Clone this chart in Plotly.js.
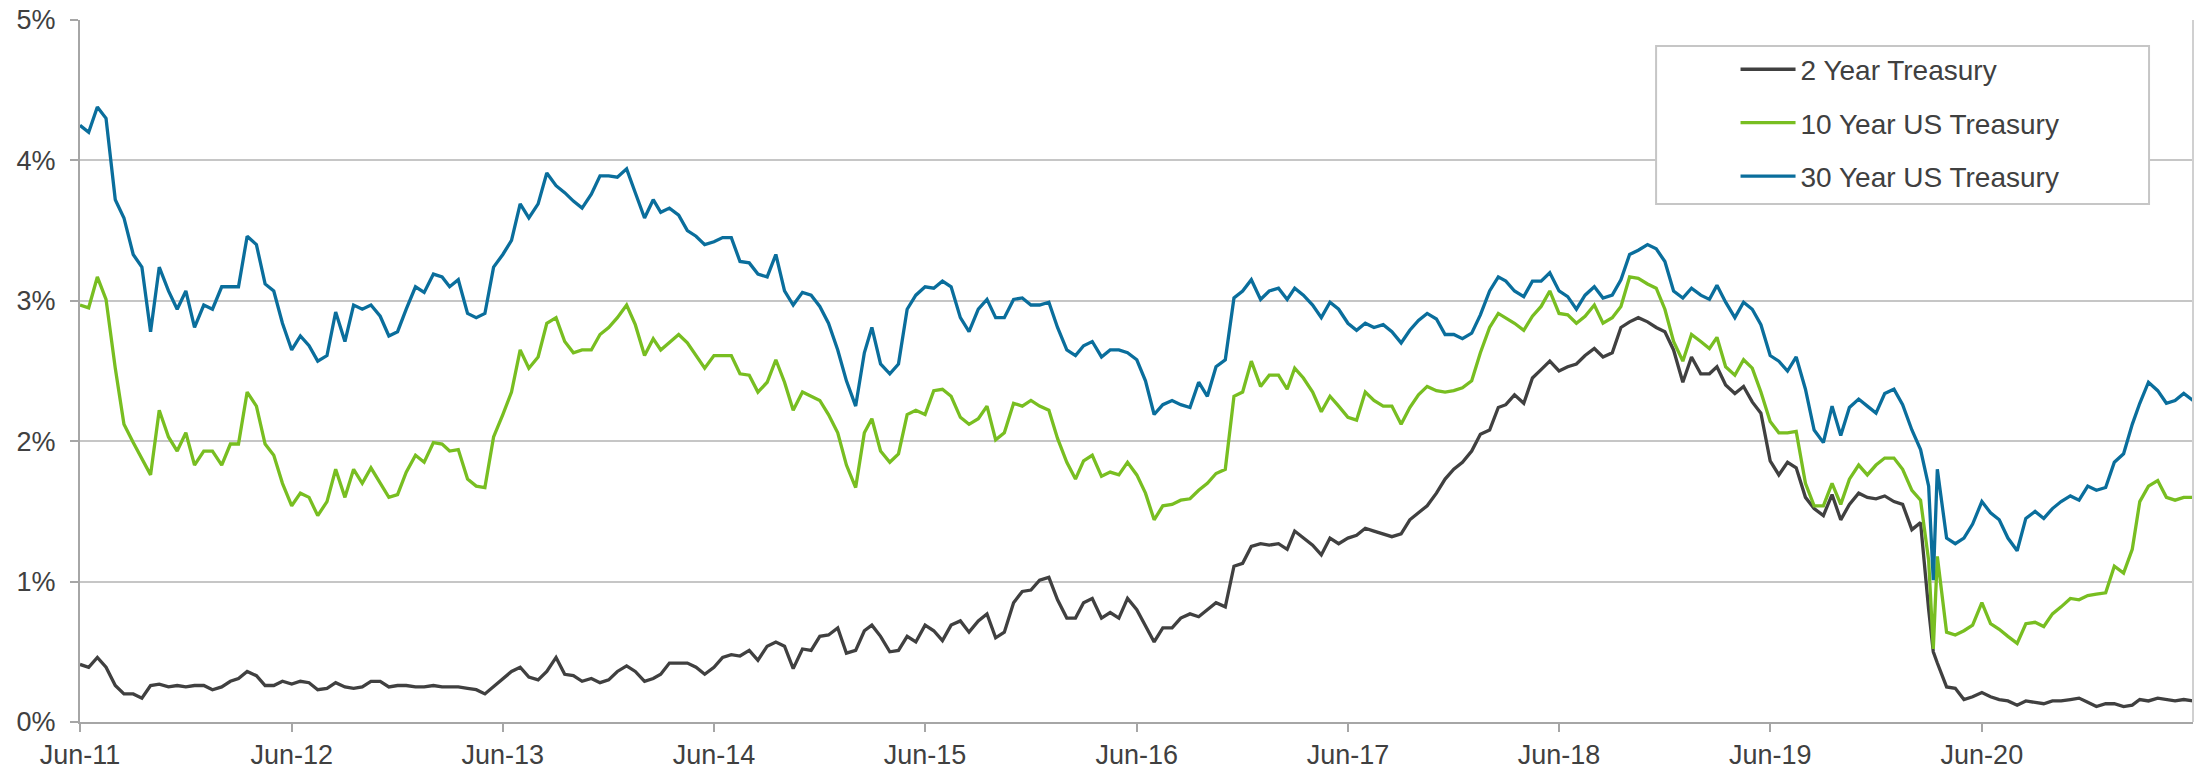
<!DOCTYPE html>
<html>
<head>
<meta charset="utf-8">
<script src="https://cdn.plot.ly/plotly-3.0.1.min.js"></script>
<style>
  html, body { margin: 0; padding: 0; background: #ffffff; }
  #chart { width: 2201px; height: 769px; }
</style>
</head>
<body>
<div id="chart"></div>
<script>
// ---- Data (semi-monthly readings, Jun 2011 - Jun 2021) ----
const startYear = 2011;
const startMonth = 6;           // June
const readingsPerMonth = 2;     // 1st and 16th of each month

const seriesNames = ["2 Year Treasury", "10 Year US Treasury", "30 Year US Treasury"];
const seriesColors = ["#404040", "#78BE21", "#0A6E9C"];

const yield2y = [
  0.41,0.39,0.46,0.39,0.26,0.20,0.20,0.17,0.26,0.27,
  0.25,0.26,0.25,0.26,0.26,0.23,0.25,0.29,0.31,0.36,
  0.33,0.26,0.26,0.29,0.27,0.29,0.28,0.23,0.24,0.28,
  0.25,0.24,0.25,0.29,0.29,0.25,0.26,0.26,0.25,0.25,
  0.26,0.25,0.25,0.25,0.24,0.23,0.20,0.25,0.31,
  0.36,0.39,0.32,0.30,0.36,0.46,0.34,0.33,0.29,0.31,
  0.28,0.30,0.36,0.40,0.36,0.29,0.31,0.34,0.42,0.42,
  0.42,0.39,0.34,0.39,0.46,0.48,0.47,0.51,0.44,0.54,
  0.57,0.54,0.38,0.52,0.51,0.61,0.62,0.67,0.49,0.51,
  0.65,0.69,0.61,0.50,0.51,0.61,0.57,0.69,
  0.65,0.58,0.69,0.72,0.64,0.72,0.77,0.60,0.64,0.85,
  0.93,0.94,1.01,1.03,0.87,0.74,0.74,0.85,0.88,0.74,
  0.78,0.74,0.88,0.80,0.69,0.57,0.67,0.67,0.74,0.77,
  0.75,0.80,0.85,0.82,1.11,1.13,1.25,1.27,1.26,1.27,
  1.23,1.36,1.31,1.26,1.19,1.31,1.27,1.31,
  1.33,1.38,1.36,1.34,1.32,1.34,1.44,1.49,1.54,1.63,
  1.73,1.80,1.85,1.93,2.05,2.08,2.24,2.26,2.33,2.27,
  2.45,2.51,2.57,2.50,2.53,2.55,2.61,2.66,2.60,2.63,
  2.81,2.85,2.88,2.85,2.81,2.78,2.65,2.42,2.60,2.48,
  2.48,2.53,2.40,2.34,2.39,2.28,2.20,
  1.86,1.76,1.85,1.81,1.60,1.52,1.47,1.62,1.44,1.55,
  1.63,1.60,1.59,1.61,1.57,1.55,1.37,1.42,0.80,0.42,
  0.25,0.24,0.16,0.18,0.21,0.18,0.16,0.15,0.12,0.15,
  0.14,0.13,0.15,0.15,0.16,0.17,0.14,0.11,0.13,0.13,
  0.11,0.12,0.16,0.15,0.17,0.16,0.15,0.16,0.15
];

const yield10y = [
  2.97,2.95,3.17,3.01,2.52,2.12,1.99,1.88,1.76,2.22,
  2.03,1.93,2.06,1.83,1.93,1.93,1.83,1.98,1.98,2.35,
  2.25,1.98,1.90,1.70,1.54,1.63,1.60,1.47,1.57,1.80,
  1.60,1.80,1.70,1.81,1.70,1.60,1.62,1.78,1.90,1.85,
  1.99,1.98,1.93,1.94,1.73,1.68,1.67,2.03,2.19,
  2.35,2.65,2.52,2.60,2.84,2.88,2.71,2.63,2.65,2.65,
  2.76,2.81,2.88,2.97,2.83,2.61,2.73,2.65,2.70,2.76,
  2.70,2.61,2.52,2.61,2.61,2.61,2.48,2.47,2.35,2.42,
  2.58,2.42,2.22,2.35,2.32,2.29,2.19,2.06,1.83,1.67,
  2.06,2.16,1.93,1.85,1.91,2.19,2.22,2.19,
  2.36,2.37,2.32,2.17,2.12,2.16,2.25,2.01,2.06,2.27,
  2.25,2.29,2.25,2.22,2.02,1.85,1.73,1.86,1.90,1.75,
  1.78,1.76,1.85,1.76,1.63,1.44,1.54,1.55,1.58,1.59,
  1.65,1.70,1.77,1.80,2.32,2.35,2.57,2.39,2.47,2.47,
  2.37,2.52,2.45,2.35,2.21,2.32,2.25,2.17,
  2.15,2.35,2.29,2.25,2.25,2.12,2.24,2.33,2.39,2.36,
  2.35,2.36,2.38,2.43,2.63,2.81,2.91,2.88,2.84,2.79,
  2.89,2.96,3.07,2.91,2.90,2.84,2.89,2.97,2.84,2.88,
  2.96,3.17,3.16,3.12,3.09,2.94,2.71,2.57,2.76,2.71,
  2.66,2.74,2.53,2.47,2.58,2.52,2.35,
  2.14,2.06,2.06,2.07,1.70,1.54,1.54,1.70,1.55,1.73,
  1.83,1.76,1.83,1.88,1.88,1.80,1.65,1.58,1.15,1.18,
  0.64,0.62,0.65,0.69,0.85,0.70,0.66,0.61,0.56,0.70,
  0.71,0.68,0.77,0.82,0.88,0.87,0.90,0.91,0.92,1.11,
  1.06,1.23,1.57,1.68,1.72,1.60,1.58,1.60,1.60
];

const yield30y = [
  4.25,4.20,4.38,4.30,3.72,3.59,3.33,3.24,2.78,3.24,
  3.07,2.94,3.07,2.81,2.97,2.94,3.10,3.10,3.10,3.46,
  3.40,3.12,3.07,2.84,2.65,2.75,2.68,2.57,2.61,2.92,
  2.71,2.97,2.94,2.97,2.89,2.75,2.78,2.94,3.10,3.06,
  3.19,3.17,3.10,3.15,2.91,2.88,2.91,3.24,3.33,
  3.43,3.69,3.59,3.69,3.91,3.82,3.77,3.71,3.66,3.76,
  3.89,3.89,3.88,3.94,3.77,3.59,3.72,3.63,3.66,3.61,
  3.50,3.46,3.40,3.42,3.45,3.45,3.28,3.27,3.19,3.17,
  3.33,3.07,2.97,3.06,3.04,2.96,2.84,2.65,2.43,2.25,
  2.63,2.81,2.55,2.48,2.55,2.94,3.04,3.10,
  3.09,3.14,3.10,2.88,2.78,2.94,3.01,2.88,2.88,3.01,
  3.02,2.97,2.97,2.99,2.81,2.65,2.61,2.68,2.71,2.60,
  2.65,2.65,2.63,2.58,2.43,2.19,2.26,2.29,2.26,2.24,
  2.42,2.32,2.53,2.58,3.02,3.07,3.15,3.01,3.07,3.09,
  3.01,3.09,3.04,2.97,2.88,2.99,2.94,2.84,
  2.79,2.84,2.81,2.83,2.78,2.70,2.79,2.86,2.91,2.87,
  2.76,2.76,2.73,2.77,2.90,3.07,3.17,3.14,3.07,3.03,
  3.14,3.14,3.20,3.07,3.03,2.94,3.04,3.10,3.02,3.04,
  3.15,3.33,3.36,3.40,3.37,3.28,3.07,3.02,3.09,3.04,
  3.01,3.11,2.99,2.88,2.99,2.94,2.83,
  2.61,2.57,2.50,2.60,2.37,2.08,1.99,2.25,2.04,2.24,
  2.30,2.25,2.20,2.34,2.37,2.26,2.08,1.94,1.68,1.80,
  1.31,1.27,1.31,1.41,1.57,1.49,1.44,1.31,1.22,1.45,
  1.50,1.45,1.52,1.57,1.61,1.58,1.68,1.65,1.67,1.85,
  1.91,2.12,2.27,2.42,2.36,2.27,2.29,2.34,2.29
];

// Extra reading at the March 2020 low
const extraDates = ["2020-03-09"];
const extra2y = [0.50];
const extra10y = [0.52];
const extra30y = [1.01];

const tickDates = ["2011-06-01","2012-06-01","2013-06-01","2014-06-01","2015-06-01",
                   "2016-06-01","2017-06-01","2018-06-01","2019-06-01","2020-06-01"];
const tickLabels = ["Jun-11","Jun-12","Jun-13","Jun-14","Jun-15",
                    "Jun-16","Jun-17","Jun-18","Jun-19","Jun-20"];
const yTickValues = [0, 1, 2, 3, 4, 5];

// ---- Build the date column for the readings ----
function pad(n) { return (n < 10 ? "0" : "") + n; }
const readingDates = yield2y.map(function (_, i) {
  const m = (startMonth - 1) + Math.floor(i / readingsPerMonth);
  const y = startYear + Math.floor(m / 12);
  const d = (i % readingsPerMonth) ? 16 : 1;
  return y + "-" + pad((m % 12) + 1) + "-" + pad(d);
});

function withExtras(values, extraValues) {
  const rows = readingDates.map(function (d, i) { return [d, values[i]]; });
  extraDates.forEach(function (d, k) { rows.push([d, extraValues[k]]); });
  rows.sort(function (a, b) { return a[0] < b[0] ? -1 : (a[0] > b[0] ? 1 : 0); });
  return { x: rows.map(function (r) { return r[0]; }), y: rows.map(function (r) { return r[1]; }) };
}

const allSeries = [withExtras(yield2y, extra2y), withExtras(yield10y, extra10y), withExtras(yield30y, extra30y)];

const traces = allSeries.map(function (s, k) {
  return {
    type: "scatter",
    mode: "lines",
    name: seriesNames[k],
    legendgroup: "g" + k,
    x: s.x,
    y: s.y,
    line: { color: seriesColors[k], width: 3.3 },
    hoverinfo: "skip"
  };
});

const textColor = "#404040";
const fontFamily = "'Liberation Sans', Arial, 'Helvetica Neue', sans-serif";

const layout = {
  width: 2201,
  height: 769,
  margin: { l: 80, r: 8, t: 20, b: 47 },
  paper_bgcolor: "#ffffff",
  plot_bgcolor: "#ffffff",
  font: { family: fontFamily, size: 27, color: textColor },
  showlegend: true,
  legend: {
    x: 0.7835,
    y: 0.965,
    xanchor: "left",
    yanchor: "top",
    bgcolor: "rgba(0,0,0,0)",
    borderwidth: 0,
    font: { family: fontFamily, size: 28, color: textColor },
    traceorder: "grouped",
    tracegroupgap: 14,
    itemwidth: 55
  },
  xaxis: {
    type: "date",
    range: ["2011-06-01", "2021-06-01"],
    tickmode: "array",
    tickvals: tickDates,
    ticktext: tickLabels,
    ticks: "outside",
    ticklen: 8,
    tickwidth: 2,
    tickcolor: "#a6a6a6",
    showline: true,
    linecolor: "#a6a6a6",
    linewidth: 2,
    showgrid: false,
    zeroline: false,
    tickfont: { family: fontFamily, size: 27, color: textColor },
    fixedrange: true
  },
  yaxis: {
    range: [0, 5],
    tickmode: "array",
    tickvals: yTickValues,
    ticktext: yTickValues.map(function (v) { return v + "%"; }),
    ticks: "outside",
    ticklen: 8,
    tickwidth: 2,
    tickcolor: "#a6a6a6",
    ticklabelstandoff: 9,
    showline: true,
    linecolor: "#a6a6a6",
    linewidth: 2,
    showgrid: true,
    gridcolor: "#c6c6c6",
    gridwidth: 2,
    zeroline: false,
    tickfont: { family: fontFamily, size: 27, color: textColor },
    fixedrange: true
  },
  shapes: [
    {
      type: "line", xref: "paper", yref: "paper",
      x0: 1, x1: 1, y0: 0, y1: 1,
      line: { color: "#d0d0d0", width: 2 }, layer: "above"
    },
    {
      type: "rect", xref: "paper", yref: "paper",
      x0: 0.7459, x1: 0.9792, y0: 0.7379, y1: 0.963,
      line: { color: "#c6c6c6", width: 2 }, fillcolor: "#ffffff", layer: "above"
    }
  ]
};

Plotly.newPlot("chart", traces, layout, { staticPlot: true, displayModeBar: false });
</script>
</body>
</html>
